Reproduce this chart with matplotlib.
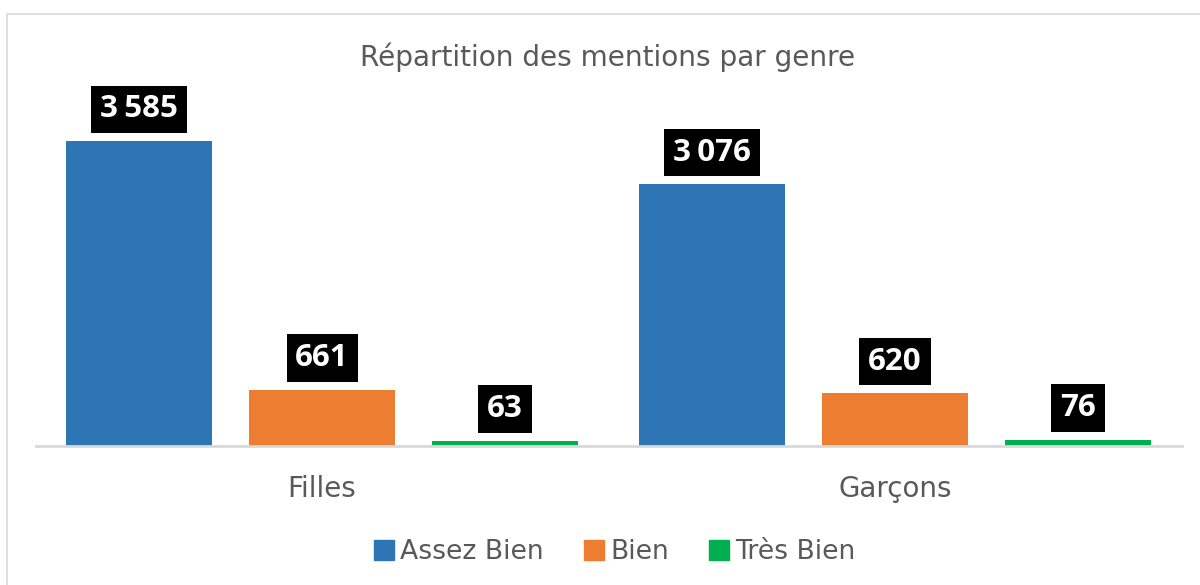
import matplotlib.pyplot as plt
import matplotlib.patches as mpatches
from matplotlib.lines import Line2D
import numpy as np

# Data
categories = ['Filles', 'Garçons']
series = ['Assez Bien', 'Bien', 'Très Bien']
values = {
    'Assez Bien': [3585, 3076],
    'Bien': [661, 620],
    'Très Bien': [63, 76],
}
colors = ['#2E75B6', '#ED7D31', '#00B050']
title = 'Répartition des mentions par genre'

W, H = 1200, 585
fig = plt.figure(figsize=(W / 100, H / 100), dpi=100)

# outer chart border (the picture is a crop of a larger chart)
fig.add_artist(mpatches.Rectangle((7 / W, -0.1), 1.2, 1 - 14 / H + 0.1,
                                  transform=fig.transFigure, fill=False,
                                  edgecolor='#D9D9D9', linewidth=1.2))

# axes placed in pixel terms: baseline at y=446, category span 35.5..1181.5
left, right = 35.5 / W, 1181.5 / W
bottom = (H - 446) / H
top_px = 60
ax = fig.add_axes([left, bottom, right - left, (446 - top_px) / H])
ymax = 3585 * (446 - top_px) / (446 - 141)
ax.set_ylim(0, ymax)
ax.set_xlim(-0.5, 1.5)

x = np.arange(len(categories))
bar_w = 146 / 573
step = 183 / 573
for i, name in enumerate(series):
    xs = x + (i - 1) * step
    ax.bar(xs, values[name], width=bar_w, color=colors[i], zorder=2)
    for xi, v in zip(xs, values[name]):
        label = f'{v:,}'.replace(',', '\u202f')
        ax.annotate(label, (xi, v), xytext=(0, 12), textcoords='offset points',
                    ha='center', va='bottom', color='white', fontsize=22.5,
                    fontweight='bold', family=['Open Sans', 'DejaVu Sans'],
                    bbox=dict(boxstyle='square,pad=0.28', facecolor='black',
                              edgecolor='none'))

for s in ax.spines.values():
    s.set_visible(False)
ax.axhline(0, color='#D9D9D9', linewidth=2, zorder=3, clip_on=False)
ax.set_yticks([])
ax.set_xticks(x)
ax.set_xticklabels(categories, fontsize=20, color='#595959', family='DejaVu Sans')
ax.tick_params(axis='x', length=0, pad=21)

fig.text(608 / W, 1 - 57 / H, title, ha='center', va='center', fontsize=20.2,
         color='#595959', family='DejaVu Sans')

handles = [Line2D([], [], linestyle='none', marker='s', markersize=14,
                  markerfacecolor=c, markeredgecolor=c) for c in colors]
fig.legend(handles, series, loc='center', bbox_to_anchor=(613 / W, 1 - 552 / H),
           ncol=3, frameon=False, fontsize=19.2, labelcolor='#595959',
           handletextpad=0.1, columnspacing=1.4, handlelength=1.0)

fig.savefig('out.png', dpi=100)
